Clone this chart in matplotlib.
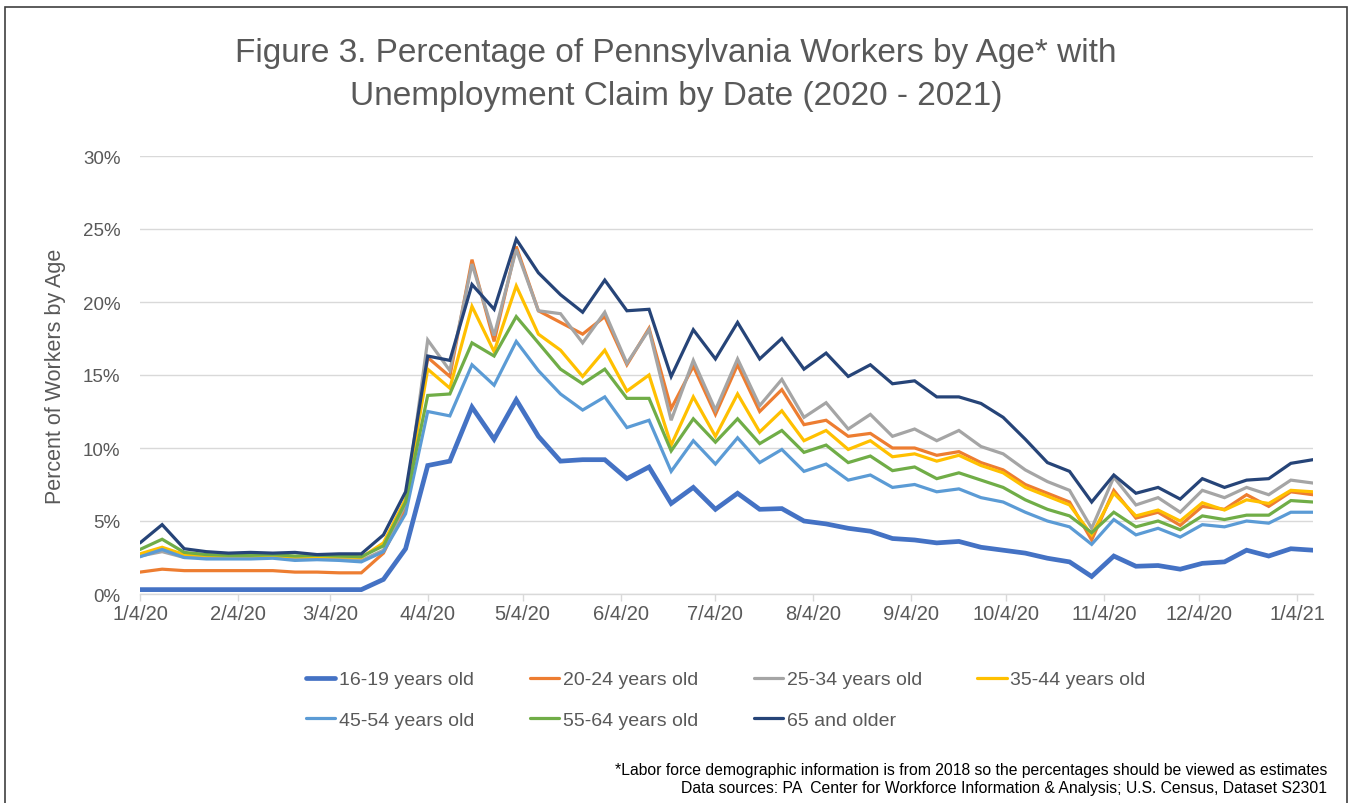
import matplotlib
matplotlib.use('Agg')
import matplotlib.pyplot as plt
import matplotlib.dates as mdates
from matplotlib.ticker import PercentFormatter, FuncFormatter
from matplotlib.patches import Rectangle
import pandas as pd

plt.rcParams['font.family'] = ['Liberation Sans', 'DejaVu Sans']

# week-ending dates (Saturdays), 1/4/20 .. 1/9/21
first_week = '2020-01-04'
n_weeks = 54
dates = pd.date_range(first_week, periods=n_weeks, freq='7D')

age_16_19 = [0.3, 0.3, 0.3, 0.3, 0.3, 0.3, 0.3, 0.3, 0.3, 0.3, 0.3, 1.0, 3.1, 8.8, 9.1,
             12.8, 10.6, 13.3, 10.8, 9.1, 9.2, 9.2, 7.9, 8.7, 6.2, 7.3, 5.8, 6.9, 5.8,
             5.85, 5.0, 4.8, 4.5, 4.3, 3.8, 3.7, 3.5, 3.6, 3.2, 3.0, 2.8, 2.45, 2.2,
             1.2, 2.6, 1.9, 1.95, 1.7, 2.1, 2.2, 3.0, 2.6, 3.1, 3.0]
age_20_24 = [1.5, 1.7, 1.6, 1.6, 1.6, 1.6, 1.6, 1.5, 1.5, 1.45, 1.45, 2.8, 5.9, 16.2, 14.9,
             22.9, 17.3, 23.8, 19.4, 18.6, 17.8, 19.0, 15.7, 18.2, 12.7, 15.6, 12.3, 15.7,
             12.5, 14.0, 11.6, 11.9, 10.8, 11.0, 10.0, 10.0, 9.5, 9.75, 9.0, 8.5, 7.5,
             6.9, 6.3, 3.7, 7.1, 5.2, 5.6, 4.7, 6.0, 5.8, 6.8, 6.0, 7.0, 6.8]
age_25_34 = [2.6, 2.9, 2.5, 2.5, 2.5, 2.5, 2.5, 2.45, 2.4, 2.4, 2.3, 3.0, 6.2, 17.4, 15.3,
             22.6, 17.7, 23.6, 19.4, 19.2, 17.2, 19.3, 15.8, 18.1, 11.9, 16.0, 12.6, 16.1,
             12.9, 14.7, 12.1, 13.1, 11.3, 12.3, 10.8, 11.3, 10.5, 11.2, 10.1, 9.6, 8.5,
             7.7, 7.1, 4.5, 8.0, 6.1, 6.6, 5.6, 7.1, 6.6, 7.3, 6.8, 7.8, 7.6]
age_35_44 = [2.75, 3.2, 2.7, 2.65, 2.6, 2.6, 2.6, 2.55, 2.55, 2.55, 2.5, 3.5, 6.5, 15.4, 14.1,
             19.7, 16.6, 21.1, 17.8, 16.7, 14.9, 16.7, 13.9, 15.0, 10.2, 13.5, 10.8, 13.7,
             11.1, 12.55, 10.5, 11.2, 9.9, 10.5, 9.4, 9.6, 9.1, 9.5, 8.8, 8.3, 7.3,
             6.7, 6.1, 4.05, 6.9, 5.35, 5.75, 5.0, 6.25, 5.75, 6.45, 6.2, 7.1, 7.0]
age_45_54 = [2.55, 3.05, 2.5, 2.4, 2.4, 2.4, 2.45, 2.3, 2.35, 2.3, 2.2, 2.9, 5.5, 12.5, 12.2,
             15.7, 14.3, 17.3, 15.3, 13.7, 12.6, 13.5, 11.4, 11.9, 8.4, 10.5, 8.9, 10.7,
             9.0, 9.9, 8.4, 8.9, 7.8, 8.15, 7.3, 7.5, 7.0, 7.2, 6.6, 6.3, 5.6,
             5.0, 4.6, 3.4, 5.1, 4.05, 4.5, 3.9, 4.75, 4.6, 5.0, 4.85, 5.6, 5.6]
age_55_64 = [3.05, 3.75, 2.85, 2.7, 2.65, 2.65, 2.7, 2.6, 2.65, 2.6, 2.55, 3.3, 6.3, 13.6, 13.7,
             17.2, 16.3, 19.0, 17.2, 15.4, 14.4, 15.4, 13.4, 13.4, 9.8, 12.0, 10.4, 12.0,
             10.3, 11.2, 9.7, 10.2, 9.0, 9.45, 8.45, 8.7, 7.9, 8.3, 7.8, 7.3, 6.45,
             5.8, 5.35, 4.2, 5.6, 4.6, 5.0, 4.4, 5.35, 5.1, 5.4, 5.4, 6.4, 6.3]
age_65_up = [3.5, 4.75, 3.1, 2.9, 2.8, 2.85, 2.8, 2.85, 2.7, 2.75, 2.75, 4.05, 7.0, 16.3, 16.0,
             21.2, 19.5, 24.3, 22.0, 20.5, 19.3, 21.5, 19.4, 19.5, 14.9, 18.1, 16.1, 18.6,
             16.1, 17.5, 15.4, 16.5, 14.9, 15.7, 14.4, 14.6, 13.5, 13.5, 13.05, 12.1, 10.6,
             9.0, 8.4, 6.3, 8.15, 6.9, 7.3, 6.5, 7.9, 7.3, 7.8, 7.9, 8.95, 9.2]

labels = ['16-19 years old', '20-24 years old', '25-34 years old', '35-44 years old',
          '45-54 years old', '55-64 years old', '65 and older']
series = [age_16_19, age_20_24, age_25_34, age_35_44, age_45_54, age_55_64, age_65_up]
colors = ['#4472C4', '#ED7D31', '#A5A5A5', '#FFC000', '#5B9BD5', '#70AD47', '#264478']
widths = [3.4, 2.3, 2.3, 2.3, 2.3, 2.3, 2.3]

title_1 = 'Figure 3. Percentage of Pennsylvania Workers by Age* with'
title_2 = 'Unemployment Claim by Date (2020 - 2021)'
note_1 = '*Labor force demographic information is from 2018 so the percentages should be viewed as estimates'
note_2 = 'Data sources: PA  Center for Workforce Information & Analysis; U.S. Census, Dataset S2301'

W, H = 1350, 804
fig = plt.figure(figsize=(W / 100, H / 100), dpi=100)
ax = fig.add_axes([140 / W, 1 - 595 / H, (1313 - 140) / W, (595 - 157) / H])

handles = []
for k, (vals, lab, col, lw) in enumerate(zip(series, labels, colors, widths)):
    ln, = ax.plot(dates, vals, color=col, lw=lw, label=lab, zorder=3 + k,
                  solid_capstyle='round', solid_joinstyle='miter')
    handles.append(ln)

grey = '#595959'
ax.set_ylim(0, 30)
ax.set_yticks(range(0, 31, 5))
ax.yaxis.set_major_formatter(PercentFormatter(decimals=0))
ax.set_xlim(dates[0], dates[-1])
ax.xaxis.set_major_locator(mdates.MonthLocator(bymonthday=4))
ax.xaxis.set_major_formatter(FuncFormatter(
    lambda v, p: '{d.month}/{d.day}/{y}'.format(d=mdates.num2date(v), y=mdates.num2date(v).year % 100)))

ax.grid(axis='y', color='#D9D9D9', lw=1)
ax.set_axisbelow(True)
for s in ['top', 'right', 'left']:
    ax.spines[s].set_visible(False)
ax.spines['bottom'].set_color('#D9D9D9')
ax.spines['bottom'].set_linewidth(1)
ax.tick_params(axis='y', length=0, pad=14, labelsize=13.5, labelcolor=grey)
ax.tick_params(axis='x', length=5, width=1, color='#D9D9D9', pad=2, labelsize=14.5, labelcolor=grey)

ax.set_ylabel('Percent of Workers by Age', fontsize=15.5, color=grey, labelpad=12)

fig.text(676 / W, 1 - 62 / H, title_1, ha='center', va='baseline', fontsize=24, color=grey)
fig.text(676 / W, 1 - 105 / H, title_2, ha='center', va='baseline', fontsize=24, color=grey)

# legend filled row by row
order = [0, 4, 1, 5, 2, 6, 3]
fig.legend([handles[i] for i in order], [labels[i] for i in order], ncol=4,
           loc='center', bbox_to_anchor=(726 / W, 1 - 701 / H), frameon=False,
           fontsize=14, labelcolor=grey, handlelength=1.5, handletextpad=0.2,
           columnspacing=2.85, labelspacing=1.2)

fig.text(1327 / W, 1 - 775 / H, note_1, ha='right', va='baseline', fontsize=11.3, color='black')
fig.text(1327 / W, 1 - 793 / H, note_2, ha='right', va='baseline', fontsize=11.3, color='black')

fig.add_artist(Rectangle((5 / W, -0.02), (1347 - 5) / W, 1.02 - 8 / H, transform=fig.transFigure,
                         fill=False, edgecolor='#404040', lw=1.2))

fig.savefig('out.png', dpi=100)
